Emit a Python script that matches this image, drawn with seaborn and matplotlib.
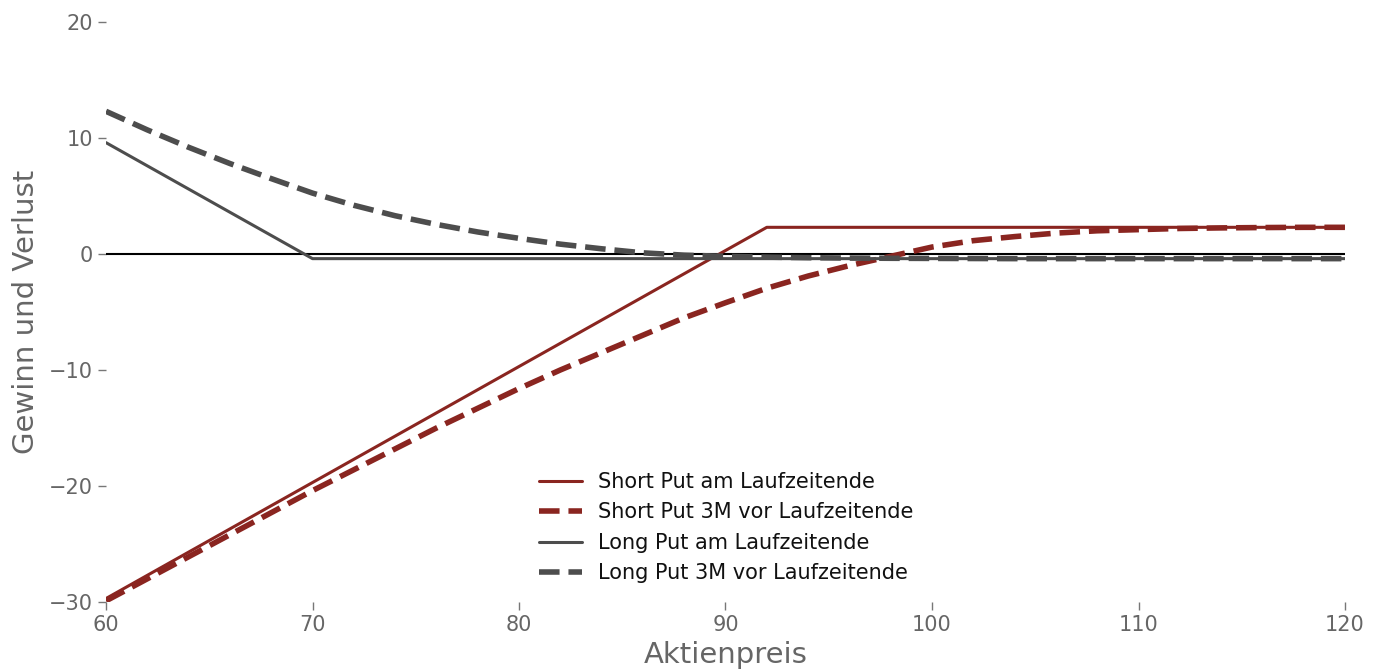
import matplotlib
matplotlib.use("Agg")
import matplotlib.pyplot as plt
import seaborn as sns
import numpy as np
import pandas as pd

# Expiry payoff breakpoints
short_expiry_x = [60, 92, 120]
short_expiry_y = [-29.7, 2.3, 2.3]
long_expiry_x = [60, 70, 120]
long_expiry_y = [9.6, -0.4, -0.4]

# Values 3 months before expiry
curve_x = [60, 62, 64, 66, 68, 70, 72, 74, 76, 78, 80, 82, 84, 86, 88, 90,
           92, 94, 96, 98, 100, 102, 104, 106, 108, 110, 112, 114, 116, 118, 120]
short_3m_y = [-29.9, -28.0, -26.1, -24.2, -22.3, -20.4, -18.6, -16.8, -15.0, -13.3,
              -11.6, -10.0, -8.5, -7.0, -5.5, -4.2, -2.95, -1.9, -1.0, -0.2,
              0.6, 1.15, 1.5, 1.8, 2.0, 2.1, 2.2, 2.25, 2.28, 2.3, 2.3]
long_3m_y = [12.3, 10.7, 9.2, 7.8, 6.5, 5.25, 4.2, 3.3, 2.55, 1.9, 1.35, 0.85, 0.45,
             0.1, -0.1, -0.2, -0.27, -0.32, -0.35, -0.37, -0.38, -0.39, -0.4, -0.4,
             -0.4, -0.4, -0.4, -0.4, -0.4, -0.4, -0.4]

labels = ["Short Put am Laufzeitende", "Short Put 3M vor Laufzeitende",
          "Long Put am Laufzeitende", "Long Put 3M vor Laufzeitende"]

RED = "#8a2520"
GREY = "#4d4d4d"

sns.set_style("white")
plt.rcParams['font.family'] = ['DejaVu Sans']

fig = plt.figure(figsize=(13.78, 6.70), dpi=100)
ax = fig.add_axes([106/1378, 1-602/670, (1345-106)/1378, (602-22)/670])

ax.axhline(0, color="black", lw=1.5, zorder=1)

sns.lineplot(x=short_expiry_x, y=short_expiry_y, ax=ax, color=RED, lw=2.2,
             label=labels[0])
sns.lineplot(x=curve_x, y=short_3m_y, ax=ax, color=RED, lw=4, ls="--",
             label=labels[1])
sns.lineplot(x=long_expiry_x, y=long_expiry_y, ax=ax, color=GREY, lw=2.2,
             label=labels[2])
sns.lineplot(x=curve_x, y=long_3m_y, ax=ax, color=GREY, lw=4, ls="--",
             label=labels[3])

ax.set_xlim(60, 120)
ax.set_ylim(-30, 20)
ax.set_xticks([60, 70, 80, 90, 100, 110, 120])
ax.set_yticks([-30, -20, -10, 0, 10, 20])
ax.set_yticklabels(["\u221230", "\u221220", "\u221210", "0", "10", "20"])
for s in ax.spines.values():
    s.set_visible(False)
ax.tick_params(axis="both", which="major", length=6, width=1, color="#777777",
               labelcolor="#666666", labelsize=15, direction="out", bottom=True, left=True)
ax.set_xlabel("Aktienpreis", fontsize=21, color="#666666", labelpad=4)
ax.set_ylabel("Gewinn und Verlust", fontsize=21, color="#666666", labelpad=6)

leg = ax.legend(loc="lower left", bbox_to_anchor=(0.334, 0.0), frameon=False,
                fontsize=15, handlelength=2.1, labelspacing=0.5, handletextpad=0.75,
                labelcolor="#111111")

fig.savefig("out.png", dpi=100)
